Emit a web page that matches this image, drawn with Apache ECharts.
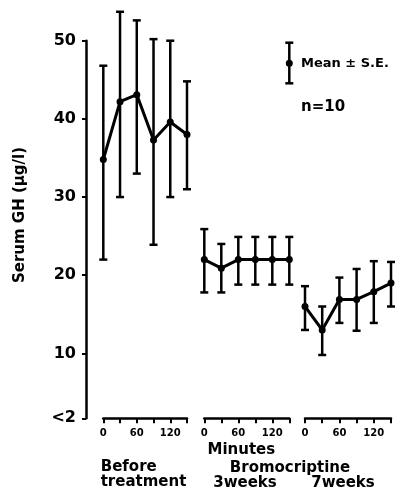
<!DOCTYPE html>
<html>
<head>
<meta charset="utf-8">
<script src="https://cdn.jsdelivr.net/npm/echarts@6/dist/echarts.min.js"></script>
<style>
    html, body { margin: 0; padding: 0; background: #fff; }
    #chart { width: 397px; height: 493px; }
</style>
</head>
<body>
<div id="chart"></div>
<script>
// time points (minutes) shared by all three panels
const minutes = [0, 30, 60, 90, 120, 150];

const beforeMean = [34.8, 42.2, 43.1, 37.3, 39.6, 38.0];
const beforeHigh = [46.8, 53.7, 52.6, 50.2, 50.0, 44.8];
const beforeLow = [22.0, 30.0, 33.0, 23.9, 30.0, 31.0];

const week3Mean = [22.0, 20.9, 22.0, 22.0, 22.0, 22.0];
const week3High = [25.9, 24.0, 24.9, 24.9, 24.9, 24.9];
const week3Low = [17.8, 17.8, 18.8, 18.8, 18.8, 18.8];

const week7Mean = [16.0, 13.0, 16.9, 16.9, 17.9, 19.0];
const week7High = [18.6, 16.0, 19.7, 20.8, 21.8, 21.7];
const week7Low = [13.0, 9.8, 13.9, 12.9, 13.9, 16.0];

const yTicks = [1.7, 10, 20, 30, 40, 50];
const yTickLabels = ['<2', '10', '20', '30', '40', '50'];
const xTickLabels = { 0: '0', 60: '60', 120: '120' };

const FONT = 'DejaVu Sans';
const INK = '#000';

const chart = echarts.init(document.getElementById('chart'), null, { renderer: 'canvas' });

const panels = [
    { mean: beforeMean, low: beforeLow, high: beforeHigh, left: 103.3, width: 83.7 },
    { mean: week3Mean, low: week3Low, high: week3High, left: 204.3, width: 85 },
    { mean: week7Mean, low: week7Low, high: week7High, left: 305, width: 86 },
];

// shared y scale: 1.7 at y=418.3, 50 at y=40.7
const Y_MIN = 1.7;
const PX_PER_UNIT = (418.3 - 40.7) / (50 - Y_MIN);
const DATA_MAX = 54;
const dataTop = 418.3 - (DATA_MAX - Y_MIN) * PX_PER_UNIT;

const errorBarItem = (params, api) => {
    const x = api.value(0);
    const top = api.coord([x, api.value(2)]);
    const bot = api.coord([x, api.value(1)]);
    const cap = 4;
    const style = { stroke: INK, lineWidth: 2.5 };
    return {
        type: 'group',
        children: [
            { type: 'line', shape: { x1: top[0], y1: top[1], x2: bot[0], y2: bot[1] }, style },
            { type: 'line', shape: { x1: top[0] - cap, y1: top[1], x2: top[0] + cap, y2: top[1] }, style },
            { type: 'line', shape: { x1: bot[0] - cap, y1: bot[1], x2: bot[0] + cap, y2: bot[1] }, style },
        ],
    };
};

const grid = [{ left: 86, top: 40.7, width: 10, height: 418.3 - 40.7 }].concat(
    panels.map(p => ({ left: p.left, width: p.width, top: dataTop, height: 418.3 - dataTop }))
);

const xAxis = [{ gridIndex: 0, type: 'value', show: false, min: 0, max: 1 }].concat(
    panels.map((p, i) => ({
        gridIndex: i + 1,
        type: 'value',
        min: 0,
        max: 150,
        interval: 30,
        splitLine: { show: false },
        axisLine: { lineStyle: { color: INK, width: 2.5 } },
        axisTick: { length: 5, lineStyle: { color: INK, width: 2 } },
        axisLabel: {
            margin: 10,
            color: INK,
            fontFamily: FONT,
            fontWeight: 'bold',
            fontSize: 10,
            showMinLabel: true,
            showMaxLabel: true,
            formatter: v => xTickLabels[v] ?? '',
        },
    }))
);

const yAxis = [{
    gridIndex: 0,
    type: 'value',
    min: Y_MIN,
    max: 50,
    splitLine: { show: false },
    axisLine: { show: true, lineStyle: { color: INK, width: 2.5 } },
    axisTick: { show: true, length: 4, customValues: yTicks, lineStyle: { color: INK, width: 2 } },
    axisLabel: {
        margin: 10,
        color: INK,
        fontFamily: FONT,
        fontWeight: 'bold',
        fontSize: 16,
        customValues: yTicks,
        formatter: v => yTickLabels[yTicks.indexOf(v)] ?? '',
    },
}].concat(
    panels.map((p, i) => ({ gridIndex: i + 1, type: 'value', min: Y_MIN, max: DATA_MAX, show: false }))
);

const series = [];
panels.forEach((p, i) => {
    series.push({
        type: 'custom',
        xAxisIndex: i + 1,
        yAxisIndex: i + 1,
        renderItem: errorBarItem,
        encode: { x: 0, y: [1, 2] },
        data: minutes.map((m, j) => [m, p.low[j], p.high[j]]),
        z: 2,
    });
    series.push({
        type: 'line',
        xAxisIndex: i + 1,
        yAxisIndex: i + 1,
        data: minutes.map((m, j) => [m, p.mean[j]]),
        symbol: 'circle',
        symbolSize: 7,
        lineStyle: { color: INK, width: 3 },
        itemStyle: { color: INK },
        z: 3,
    });
});

const textStyle = (text, x, y, size, align) => ({
    type: 'text',
    x,
    y,
    style: {
        text,
        fill: INK,
        font: `bold ${size}px "${FONT}"`,
        textAlign: align || 'left',
        textVerticalAlign: 'middle',
    },
});

const legendLine = { stroke: INK, lineWidth: 2.5 };

chart.setOption({
    animation: false,
    backgroundColor: '#fff',
    grid,
    xAxis,
    yAxis,
    series,
    graphic: [
        {
            type: 'text',
            x: 20,
            y: 215,
            rotation: Math.PI / 2,
            style: {
                text: 'Serum GH (\u00b5g/l)',
                fill: INK,
                font: `bold 15px "${FONT}"`,
                textAlign: 'center',
                textVerticalAlign: 'middle',
            },
        },
        // legend marker
        { type: 'line', shape: { x1: 289.3, y1: 42.7, x2: 289.3, y2: 83.3 }, style: legendLine },
        { type: 'line', shape: { x1: 285.3, y1: 42.7, x2: 293.3, y2: 42.7 }, style: legendLine },
        { type: 'line', shape: { x1: 285.3, y1: 83.3, x2: 293.3, y2: 83.3 }, style: legendLine },
        { type: 'circle', shape: { cx: 289.3, cy: 63.3, r: 3.5 }, style: { fill: INK } },
        textStyle('Mean \u00b1 S.E.', 301, 64, 13),
        textStyle('n=10', 301, 107, 15),
        // x axis captions
        textStyle('Minutes', 241.3, 450, 15, 'center'),
        textStyle('Before', 100.7, 467, 15),
        textStyle('treatment', 100.7, 482, 15),
        textStyle('Bromocriptine', 290, 468, 15, 'center'),
        textStyle('3weeks', 245, 483, 15, 'center'),
        textStyle('7weeks', 343, 483, 15, 'center'),
    ],
});
</script>
</body>
</html>
